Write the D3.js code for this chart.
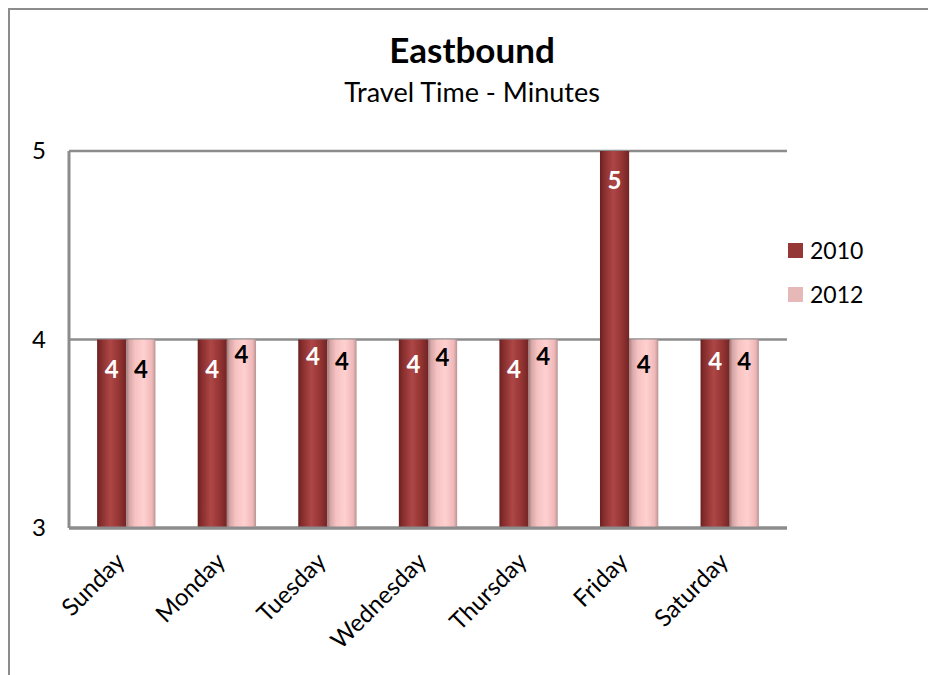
<!DOCTYPE html>
<html>
<head>
<meta charset="utf-8">
<script src="https://cdn.jsdelivr.net/npm/d3@7"></script>
<style>
  html, body { margin: 0; padding: 0; background: #fff; }
  svg { display: block; font-family: Lato, "Open Sans", sans-serif; }
</style>
</head>
<body>
<svg id="chart" width="928" height="675"></svg>
<script>
// Eastbound travel time by day of week, minutes
const days = ["Sunday", "Monday", "Tuesday", "Wednesday", "Thursday", "Friday", "Saturday"];
const series = ["2010", "2012"];
const values2010 = [4, 4, 4, 4, 4, 5, 4];
const values2012 = [4, 4, 4, 4, 4, 4, 4];
const yTicks = [3, 4, 5];

// small vertical nudges for the value labels (pixels), as laid out in the workbook
const labelNudge2010 = [0, 0, -13, -5, 0, 0, -8];
const labelNudge2012 = [0, -15, -8, -12, -13, -5, -8];

const svg = d3.select("#chart");
const W = 928, H = 675;

const plot = { left: 69, right: 787, top: 151, bottom: 528 };

// chart frame (left and top edges visible)
svg.append("path")
  .attr("d", `M9,${H} L9,9 L${W},9`)
  .attr("fill", "none")
  .attr("stroke", "#8c8c8c")
  .attr("stroke-width", 2);

// titles
svg.append("text")
  .attr("x", 472).attr("y", 63)
  .attr("text-anchor", "middle")
  .attr("font-weight", "bold")
  .attr("font-size", 35)
  .attr("fill", "#000")
  .text("Eastbound");
svg.append("text")
  .attr("x", 472).attr("y", 102)
  .attr("text-anchor", "middle")
  .attr("font-size", 27)
  .attr("fill", "#000")
  .text("Travel Time - Minutes");

const y = d3.scaleLinear().domain([3, 5]).range([plot.bottom, plot.top]);
const x = d3.scaleBand().domain(days).range([76, 780]).padding(0);
const barW = x.bandwidth() * 0.29;

// gradients giving the bars a rounded look
const defs = svg.append("defs");
function grad(id, stops) {
  const g = defs.append("linearGradient").attr("id", id)
    .attr("x1", "0%").attr("x2", "100%").attr("y1", "0%").attr("y2", "0%");
  stops.forEach(([o, c]) => g.append("stop").attr("offset", o).attr("stop-color", c));
}
grad("g2010", [["0%", "#6a2020"], ["12%", "#852c2c"], ["45%", "#ad4746"], ["75%", "#953534"], ["100%", "#722424"]]);
grad("g2012", [["0%", "#9c7878"], ["10%", "#d6a5a5"], ["30%", "#f6c2c2"], ["60%", "#ffd0d0"], ["88%", "#f0b8b8"], ["100%", "#b89494"]]);

// gridlines
svg.append("g")
  .selectAll("line")
  .data(yTicks)
  .join("line")
  .attr("x1", plot.left).attr("x2", plot.right)
  .attr("y1", d => y(d)).attr("y2", d => y(d))
  .attr("stroke", "#8c8c8c")
  .attr("stroke-width", d => d === 3 ? 3 : 2.5);

// vertical axis line
svg.append("line")
  .attr("x1", plot.left).attr("x2", plot.left)
  .attr("y1", plot.top).attr("y2", plot.bottom)
  .attr("stroke", "#8c8c8c").attr("stroke-width", 3);

// y tick labels
svg.append("g")
  .selectAll("text")
  .data(yTicks)
  .join("text")
  .attr("x", 39).attr("y", d => y(d))
  .attr("dy", "0.35em")
  .attr("text-anchor", "middle")
  .attr("font-size", 24)
  .attr("fill", "#000")
  .text(d => d);

// bars
const rows = days.map((d, i) => ({ day: d, v2010: values2010[i], v2012: values2012[i], i }));
const bars = svg.append("g");
rows.forEach(r => {
  const cx = x(r.day) + x.bandwidth() / 2;
  bars.append("rect")
    .attr("x", cx - barW).attr("width", barW)
    .attr("y", y(r.v2010)).attr("height", y(3) - y(r.v2010))
    .attr("fill", "url(#g2010)");
  bars.append("rect")
    .attr("x", cx).attr("width", barW)
    .attr("y", y(r.v2012)).attr("height", y(3) - y(r.v2012))
    .attr("fill", "url(#g2012)");
  // value labels
  bars.append("text")
    .attr("x", cx - barW / 2)
    .attr("y", y(r.v2010) + 30 + labelNudge2010[r.i])
    .attr("dy", "0.35em")
    .attr("text-anchor", "middle")
    .attr("font-weight", "bold").attr("font-size", 24)
    .attr("fill", "#fff")
    .text(r.v2010);
  bars.append("text")
    .attr("x", cx + barW / 2)
    .attr("y", y(r.v2012) + 30 + labelNudge2012[r.i])
    .attr("dy", "0.35em")
    .attr("text-anchor", "middle")
    .attr("font-weight", "bold").attr("font-size", 24)
    .attr("fill", "#000")
    .text(r.v2012);
});

// bottom axis line drawn over bar bases
svg.append("line")
  .attr("x1", plot.left).attr("x2", plot.right)
  .attr("y1", plot.bottom).attr("y2", plot.bottom)
  .attr("stroke", "#8c8c8c").attr("stroke-width", 3);

// category labels, rotated
svg.append("g")
  .selectAll("text")
  .data(days)
  .join("text")
  .attr("text-anchor", "end")
  .attr("font-size", 24)
  .attr("fill", "#000")
  .attr("transform", d => `translate(${x(d) + x.bandwidth() / 2},${plot.bottom + 35}) rotate(-45)`)
  .text(d => d);

// legend
const legendColors = ["#953735", "#e6b9b8"];
const legend = svg.append("g");
series.forEach((s, i) => {
  legend.append("rect")
    .attr("x", 788).attr("y", 243 + i * 44)
    .attr("width", 15).attr("height", 15)
    .attr("fill", legendColors[i]);
  legend.append("text")
    .attr("x", 810).attr("y", 251 + i * 44)
    .attr("dy", "0.35em")
    .attr("font-size", 23)
    .attr("fill", "#000")
    .text(s);
});
</script>
</body>
</html>
